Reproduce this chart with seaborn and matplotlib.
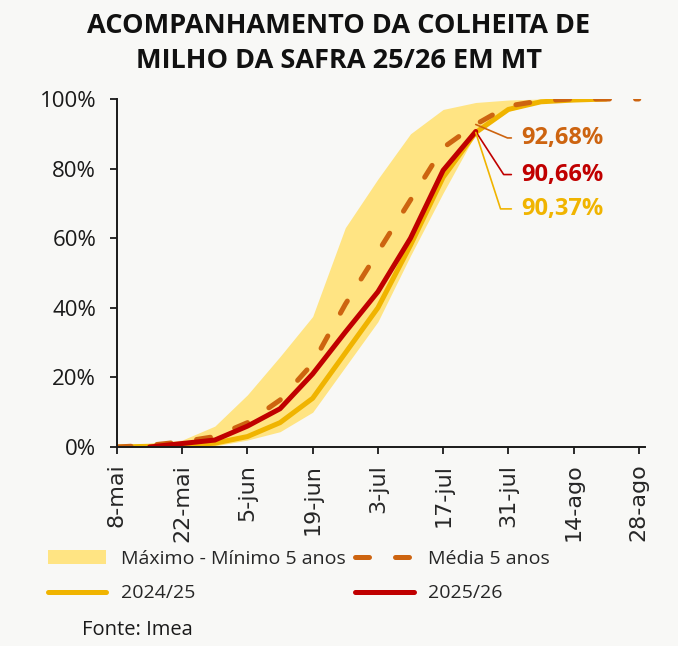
import numpy as np
import pandas as pd
import matplotlib
matplotlib.use("Agg")
import matplotlib.pyplot as plt
import seaborn as sns
from matplotlib.patches import Patch
from matplotlib.lines import Line2D

# weekly dates, 8-mai .. 28-ago
semanas = pd.date_range("2026-05-08", periods=17, freq="7D")

maximo_5 = [0, 1, 2, 6, 15, 26, 37.5, 63, 77, 90, 97, 99, 99.7, 100, 100, 100, 100]
minimo_5 = [0, 0, 0, 0.3, 2, 4.4, 10, 23, 36, 55, 73, 90, 96.5, 99, 99.8, 100, 100]
media_5 = [0, 0.5, 1.5, 3, 7, 13.5, 24, 41, 56, 71, 86, 92.68, 98, 99.5, 100, 100, 100]
safra_2425 = [0, 0.2, 0.5, 1.1, 3, 7, 14, 27, 40, 58, 77.5, 90.37, 97, 99.2, 99.7, 100]
safra_2526 = [0, 1, 2, 6, 11, 21, 33, 44.6, 60, 79.5, 90.66]  # starts 15-mai

tick_datas = pd.date_range("2026-05-08", periods=9, freq="14D")
tick_labels = ["8-mai", "22-mai", "5-jun", "19-jun", "3-jul", "17-jul", "31-jul", "14-ago", "28-ago"]
y_ticks = [0, 20, 40, 60, 80, 100]

COR_FAIXA = "#FFE483"
COR_MEDIA = "#CD6410"
COR_2425 = "#F0B400"
COR_2526 = "#C00000"
FUNDO = "#F8F8F6"

sns.set_style("white")
plt.rcParams["font.family"] = ["Open Sans", "DejaVu Sans"]

fig = plt.figure(figsize=(6.78, 6.46), dpi=100, facecolor=FUNDO)
ax = fig.add_axes([117 / 678, 1 - 447 / 646, (645 - 117) / 678, (447 - 99) / 646])
ax.set_facecolor(FUNDO)

ax.fill_between(semanas, minimo_5, maximo_5, color=COR_FAIXA, lw=0)

df_media = pd.DataFrame({"data": semanas, "v": media_5})
df_2425 = pd.DataFrame({"data": semanas[:len(safra_2425)], "v": safra_2425})
df_2526 = pd.DataFrame({"data": semanas[1:1 + len(safra_2526)], "v": safra_2526})

sns.lineplot(data=df_2425, x="data", y="v", ax=ax, color=COR_2425, lw=3.6,
             solid_capstyle="round")
sns.lineplot(data=df_media, x="data", y="v", ax=ax, color=COR_MEDIA, lw=3.6,
             linestyle=(0, (2.8, 5.2)), dash_capstyle="round")
sns.lineplot(data=df_2526, x="data", y="v", ax=ax, color=COR_2526, lw=3.6,
             solid_capstyle="round")

ax.set_xlim(pd.Timestamp("2026-05-08"), pd.Timestamp("2026-08-29 08:00"))
ax.set_ylim(0, 100)
ax.set_xticks(tick_datas)
ax.set_xticklabels(tick_labels, rotation=90, family="DejaVu Sans", fontsize=16)
ax.set_yticks(y_ticks)
ax.set_yticklabels([f"{v}%" for v in y_ticks], fontsize=16, color="#1a1a1a")
ax.set_xlabel("")
ax.set_ylabel("")
ax.tick_params(axis="both", direction="out", length=5, width=1.3, color="#1a1a1a",
               left=True, bottom=True)
ax.tick_params(axis="y", pad=10)
ax.tick_params(axis="x", pad=7)
for s in ["top", "right"]:
    ax.spines[s].set_visible(False)
for s in ["left", "bottom"]:
    ax.spines[s].set_color("#1a1a1a")
    ax.spines[s].set_linewidth(1.4)

# annotations at 24-jul
d_ult = semanas[11]
rotulos = [
    (media_5[11], COR_MEDIA, -9.7, -23),
    (safra_2526[-1], COR_2526, -31, -57),
    (safra_2425[11], COR_2425, -55, -72),
]
for val, cor, dy, ang in rotulos:
    ax.annotate(f"{val:.2f}%".replace(".", ","), xy=(d_ult, val),
                xytext=(33, dy), textcoords="offset points",
                ha="left", va="center", fontsize=17, fontweight="bold", color=cor,
                annotation_clip=False,
                arrowprops=dict(arrowstyle="-", color=cor, lw=1.2, shrinkA=5, shrinkB=0,
                                connectionstyle=f"angle,angleA=0,angleB={ang},rad=0"))

fig.text(0.5, 1 - 43.5 / 646, "ACOMPANHAMENTO DA COLHEITA DE\nMILHO DA SAFRA 25/26 EM MT",
         ha="center", va="center", fontsize=19.5, fontweight="bold", linespacing=1.45,
         color="#111111")

handles = [
    Patch(facecolor=COR_FAIXA, edgecolor="none"),
    Line2D([], [], color=COR_2425, lw=3.6, solid_capstyle="round"),
    Line2D([], [], color=COR_MEDIA, lw=3.6, linestyle=(0, (2.8, 5.2)), dash_capstyle="round"),
    Line2D([], [], color=COR_2526, lw=3.6, solid_capstyle="round"),
]
labels = ["Máximo - Mínimo 5 anos", "2024/25", "Média 5 anos", "2025/26"]
fig.legend(handles, labels, ncol=2, loc="upper left", bbox_to_anchor=(40 / 678, 1 - 542 / 646),
           frameon=False, fontsize=14, handlelength=3.0, handletextpad=0.75,
           columnspacing=0.5, labelspacing=0.85, borderaxespad=0)

fig.text(82 / 678, 1 - 630 / 646, "Fonte: Imea", ha="left", va="center", fontsize=14.5,
         color="#1a1a1a")

fig.savefig("out.png", dpi=100, facecolor=FUNDO)
